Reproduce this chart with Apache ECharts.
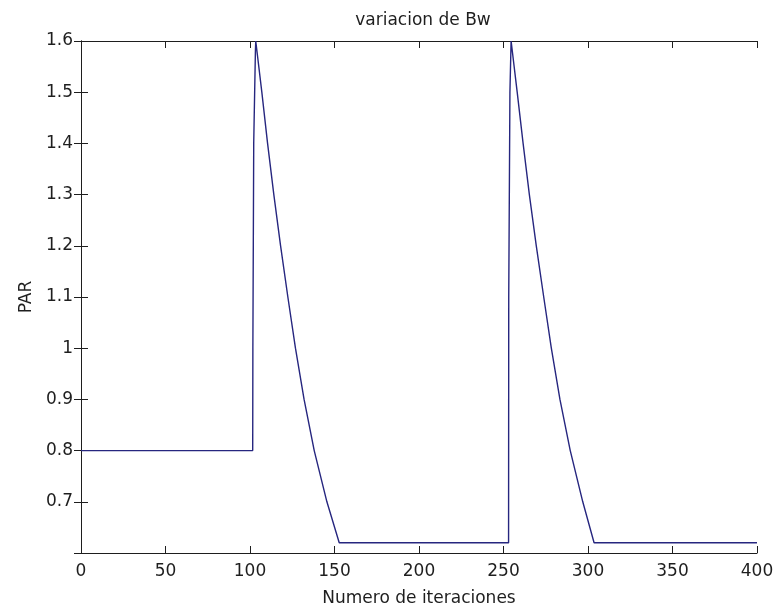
<!DOCTYPE html>
<html>
<head>
<meta charset="utf-8">
<script src="https://cdn.jsdelivr.net/npm/echarts@6/dist/echarts.min.js"></script>
<style>
  html, body { margin: 0; padding: 0; background: #ffffff; }
  #chart { width: 777px; height: 608px; }
</style>
</head>
<body>
<div id="chart"></div>
<script>
// Iteration number and PAR value at each vertex of the curve
const iteraciones = [0, 101.6, 101.7, 102.2, 103.2, 103.4,
                     107.0, 110.4, 114.1, 118.1, 122.4, 126.9, 132.0, 138.0, 145.5, 152.8,
                     253.0, 253.1, 253.8, 254.5,
                     258.1, 261.6, 265.3, 269.4, 273.8, 278.3, 283.4, 289.5, 296.9, 303.6, 400];
const par =         [0.8, 0.8, 1.0, 1.4, 1.58, 1.6,
                     1.5, 1.4, 1.3, 1.2, 1.1, 1.0, 0.9, 0.8, 0.7, 0.62,
                     0.62, 1.1, 1.5, 1.6,
                     1.5, 1.4, 1.3, 1.2, 1.1, 1.0, 0.9, 0.8, 0.7, 0.62, 0.62];

const xTicks = [0, 50, 100, 150, 200, 250, 300, 350, 400];
const yTicks = [0.7, 0.8, 0.9, 1, 1.1, 1.2, 1.3, 1.4, 1.5, 1.6];

const titulo = 'variacion de Bw';
const nombreX = 'Numero de iteraciones';
const nombreY = 'PAR';

const FONT = 'DejaVu Sans';
const INK = '#1e1e1e';

const puntos = iteraciones.map((x, i) => [x, par[i]]);

const chart = echarts.init(document.getElementById('chart'), null, { renderer: 'canvas' });

const tickStyle = { show: true, inside: true, length: 7, lineStyle: { color: INK, width: 1 } };
const lineStyle = { show: true, lineStyle: { color: INK, width: 1 } };

chart.setOption({
  animation: false,
  backgroundColor: '#ffffff',
  title: {
    text: titulo,
    left: 418,
    top: 7,
    textAlign: 'center',
    textStyle: { fontFamily: FONT, fontSize: 17, fontWeight: 'normal', color: INK }
  },
  grid: { left: 81, right: 20, top: 41, bottom: 55, containLabel: false, outerBoundsMode: 'none' },
  xAxis: [
    {
      type: 'value', min: 0, max: 400, interval: 50, position: 'bottom',
      name: nombreX, nameLocation: 'middle', nameGap: 37,
      nameTextStyle: { fontFamily: FONT, fontSize: 17, color: INK },
      axisLine: lineStyle, axisTick: tickStyle,
      axisLabel: { fontFamily: FONT, fontSize: 17, color: INK, margin: 10,
                   formatter: v => xTicks.includes(v) ? String(v) : '' },
      splitLine: { show: false }
    },
    {
      type: 'value', min: 0, max: 400, interval: 50, position: 'top',
      axisLine: lineStyle, axisTick: tickStyle, axisLabel: { show: false },
      splitLine: { show: false }
    }
  ],
  yAxis: [
    {
      type: 'value', min: 0.6, max: 1.6, interval: 0.1, position: 'left',
      name: nombreY, nameLocation: 'middle', nameGap: 37, nameRotate: 90,
      nameTextStyle: { fontFamily: FONT, fontSize: 17, color: INK },
      axisLine: lineStyle, axisTick: tickStyle,
      axisLabel: {
        fontFamily: FONT, fontSize: 17, color: INK, margin: 8,
        formatter: v => {
          const r = Math.round(v * 10) / 10;
          return yTicks.includes(r) ? String(r) : '';
        }
      },
      splitLine: { show: false }
    },
    {
      type: 'value', min: 0.6, max: 1.6, interval: 0.1, position: 'right',
      axisLine: lineStyle, axisTick: tickStyle, axisLabel: { show: false },
      splitLine: { show: false }
    }
  ],
  series: [
    {
      type: 'line',
      data: puntos,
      xAxisIndex: 0,
      yAxisIndex: 0,
      showSymbol: false,
      symbol: 'none',
      lineStyle: { color: '#26267f', width: 1.4 },
      clip: true
    }
  ]
});
</script>
</body>
</html>
